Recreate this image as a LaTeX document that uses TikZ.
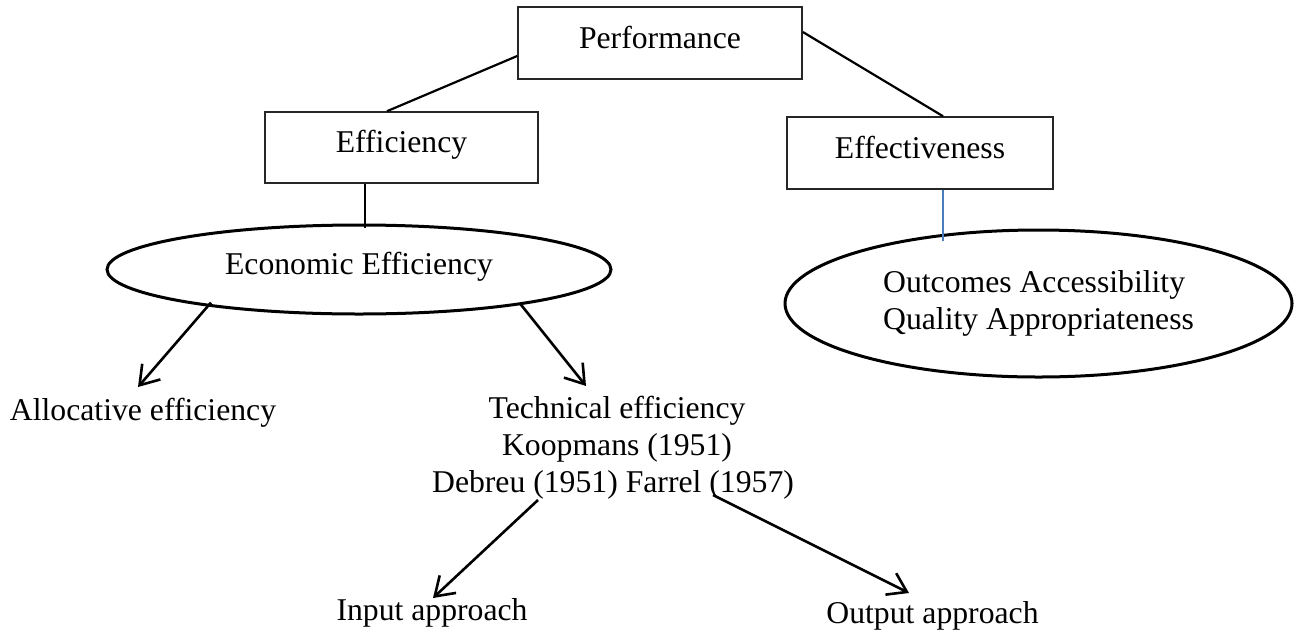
\documentclass[tikz,border=0pt]{standalone}
\usepackage{fontspec}
\setmainfont{Liberation Serif}
\usetikzlibrary{shapes.geometric,arrows.meta,calc}
\definecolor{linkblue}{RGB}{74,126,187}
\begin{document}
\begin{tikzpicture}[x=0.5pt,y=-0.5pt,
  every node/.style={font=\fontsize{15.85}{18.5}\selectfont, inner sep=0pt},
  box/.style={draw=black!85, line width=0.8pt, text height=11pt, text depth=6pt},
  oval/.style={ellipse, draw, line width=1.5pt},
  lbl/.style={anchor=base},
  link/.style={line width=1.1pt},
  bluelink/.style={draw=linkblue, line width=0.8pt},
  arr/.style={line width=1.3pt, -{Straight Barb[length=9pt,width=12pt]}}]
\useasboundingbox (0,0) rectangle (1294,632);
% boxes
\node[box, minimum width=142pt, minimum height=36pt] (perf) at (660,43) {Performance};
\node[box, minimum width=136.5pt, minimum height=35.5pt, text height=10.5pt] (eff) at (401.5,147.5) {Efficiency};
\node[box, minimum width=133pt, minimum height=36pt] (effv) at (920,153) {Effectiveness};
% ellipses
\node[oval, minimum width=252pt, minimum height=44.5pt, text height=11pt, text depth=6pt] (econ) at (359,269.5) {Economic Efficiency};
\node[oval, minimum width=253.5pt, minimum height=73.5pt, align=left] (qual) at (1038.5,303.5) {Outcomes Accessibility\\Quality Appropriateness};
% labels
\node[lbl] (alloc) at (143,420) {Allocative efficiency};
\node[lbl] (tech1) at (617,418) {Technical efficiency};
\node[lbl] (tech2) at (617,455) {Koopmans (1951)};
\node[lbl] (tech3) at (613,492) {Debreu (1951) Farrel (1957)};
\node[lbl] (inp) at (432,620) {Input approach};
\node[lbl] (outp) at (932.5,623) {Output approach};
% connectors
\draw[link] ($(perf.west)+(0,13)$) -- ($(eff.north)+(-14.5,0)$);
\draw[link] ($(perf.east)+(0,-11)$) -- ($(effv.north)+(23,0)$);
\draw[link] ($(eff.south)+(-36.5,0)$) -- ($(econ.north)+(6,4)$);
\draw[bluelink] ($(effv.south)+(23,0)$) -- ($(qual.north)+(-95.5,12)$);
% arrows
\draw[arr] ($(econ.center)+(-148,33)$) -- ($(alloc.base)+(-5,-33)$);
\draw[arr] ($(econ.center)+(161,34)$) -- ($(tech1.base)+(-31,-32)$);
\draw[arr] ($(tech3.base)+(-75,8)$) -- ($(inp.base)+(1,-22)$);
\draw[arr] ($(tech3.base)+(100,3)$) -- ($(outp.base)+(-23.5,-30)$);
\end{tikzpicture}
\end{document}
